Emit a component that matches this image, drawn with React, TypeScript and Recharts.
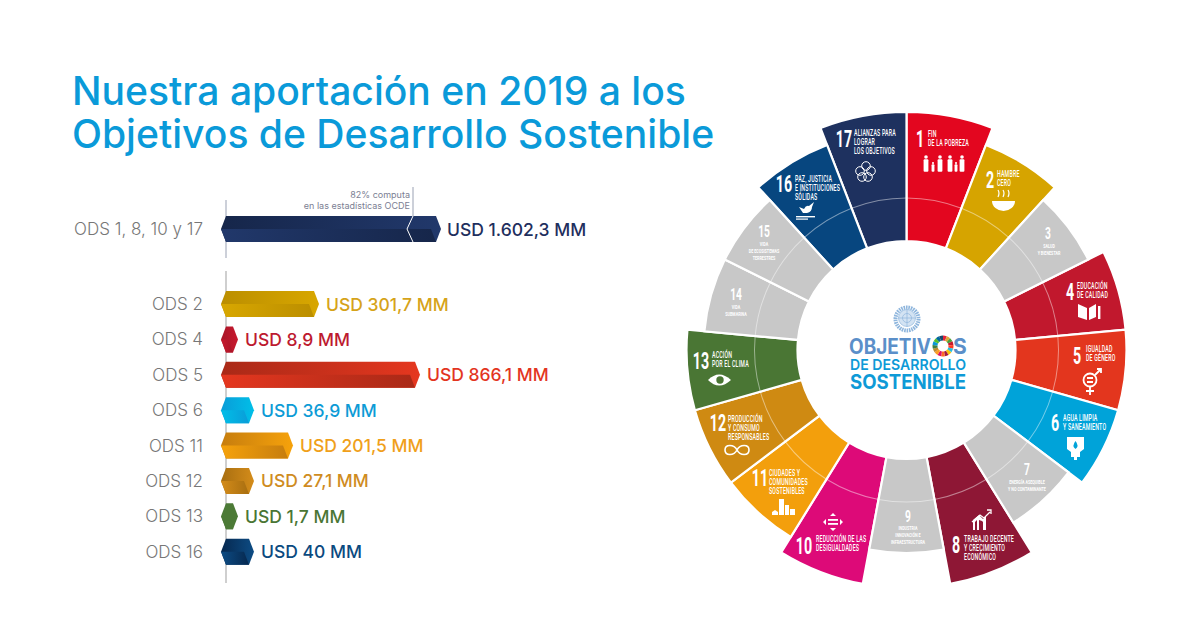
import { BarChart, Bar, XAxis, YAxis, LabelList, PieChart, Pie, Cell } from "recharts";

// Funding per group of goals. The picture's bars are not to scale with the amounts,
// so barLengths holds the lengths.
const topCategories = ["ODS 1, 8, 10 y 17"];
const topAmounts = ["USD 1.602,3 MM"];
const topLengths = [215];
const oecdMarkLength = 187;

const categories = ["ODS 2", "ODS 4", "ODS 5", "ODS 6", "ODS 11", "ODS 12", "ODS 13", "ODS 16"];
const amounts = ["USD 301,7 MM", "USD 8,9 MM", "USD 866,1 MM", "USD 36,9 MM", "USD 201,5 MM", "USD 27,1 MM", "USD 1,7 MM", "USD 40 MM"];
const barLengths = [93, 12, 194, 28, 67, 28, 12, 28];
const lightColors = ["#d8a700", "#c8192e", "#e5371f", "#00bfe8", "#f6a20b", "#d48c1a", "#4c7a36", "#0d4c84"];
const darkColors = ["#bb8e00", "#a81527", "#a92917", "#0a9cd8", "#c67d0e", "#a86e10", "#4c7a36", "#06284f"];
const labelColors = ["#d6a319", "#bd1a30", "#e3351f", "#0d9bd6", "#f0a01a", "#cf8c1f", "#4a7634", "#0b4a80"];

const topLight = "#21386b";
const topDark = "#16264a";

// The 17 goals, clockwise from the top
const goalWeights = [1, 1, 1, 1, 1, 1, 1, 1, 1, 1, 1, 1, 1, 1, 1, 1, 1];
const goalColors = ["#e3061f", "#d6a400", "#c8c8c8", "#c1182d", "#e3361e", "#00a3d9", "#c8c8c8", "#8e1735", "#c8c8c8", "#dd0a78", "#f39f0c", "#cf8a12", "#4a7634", "#c8c8c8", "#c8c8c8", "#07467f", "#1e315f"];
const goalRings = ["lg", "md", "sm", "md", "md", "md", "sm", "lg", "sm", "lg", "md", "md", "md", "sm", "sm", "md", "lg"];
const logoColors = ["#e5243b", "#dda63a", "#4c9f38", "#c5192d", "#ff3a21", "#26bde2", "#fcc30b", "#a21942", "#fd6925", "#dd1367", "#fd9d24", "#bf8b2e", "#3f7e44", "#0a97d9", "#56c02b", "#00689d", "#19486a"];

const goalNumbers = ["1", "2", "3", "4", "5", "6", "7", "8", "9", "10", "11", "12", "13", "14", "15", "16", "17"];
const goalNames = [
  ["FIN", "DE LA POBREZA"],
  ["HAMBRE", "CERO"],
  ["SALUD", "Y BIENESTAR"],
  ["EDUCACIÓN", "DE CALIDAD"],
  ["IGUALDAD", "DE GÉNERO"],
  ["AGUA LIMPIA", "Y SANEAMIENTO"],
  ["ENERGÍA ASEQUIBLE", "Y NO CONTAMINANTE"],
  ["TRABAJO DECENTE", "Y CRECIMIENTO", "ECONÓMICO"],
  ["INDUSTRIA", "INNOVACIÓN E", "INFRAESTRUCTURA"],
  ["REDUCCIÓN DE LAS", "DESIGUALDADES"],
  ["CIUDADES Y", "COMUNIDADES", "SOSTENIBLES"],
  ["PRODUCCIÓN", "Y CONSUMO", "RESPONSABLES"],
  ["ACCIÓN", "POR EL CLIMA"],
  ["VIDA", "SUBMARINA"],
  ["VIDA", "DE ECOSISTEMAS", "TERRESTRES"],
  ["PAZ, JUSTICIA", "E INSTITUCIONES", "SÓLIDAS"],
  ["ALIANZAS PARA", "LOGRAR", "LOS OBJETIVOS"],
];

// number x/y, text x, first text line y; grey goals are centred
const labelSpots = [
  [920, 139, 928, 135], [990, 180, 997, 175], [1048, 233, 1049, 246], [1070, 292, 1077, 287], [1077, 356, 1086, 350],
  [1055, 423, 1063, 419], [1027, 469, 1027, 482], [956, 545, 964, 540], [908, 516, 908, 528], [804, 546, 816, 540],
  [760, 478, 769, 474], [718, 423, 728, 420], [701, 361, 712, 356], [736, 294, 736, 307], [764, 231, 764, 244],
  [784, 184, 795, 180], [844, 139, 854, 134],
];

const CX = 906.5;
const CY = 350;
const SANS = "Inter, Roboto, sans-serif";
const CONDENSED = "Roboto, sans-serif";

function HexBar(props: any) {
  const { x, y, width, height, index, light, dark, mark } = props;
  const mid = y + height / 2;
  const end = x + width;
  const bottom = y + height;
  const upId = `up-${mark ? "t" : "b"}-${index}`;
  const lowId = `low-${mark ? "t" : "b"}-${index}`;
  const hex = `${x - 5},${mid} ${x},${y} ${end - 5},${y} ${end},${mid} ${end - 5},${bottom} ${x},${bottom}`;
  const lower = `${x - 5},${mid} ${end - 10},${mid} ${end - 5},${bottom} ${x},${bottom}`;
  const markX = mark ? x + (width * oecdMarkLength) / topLengths[0] : 0;
  return (
    <g>
      <defs>
        <linearGradient id={upId} x1="0" x2="1" y1="0" y2="0">
          <stop offset="0" stopColor={dark} />
          <stop offset="1" stopColor={light} />
        </linearGradient>
        <linearGradient id={lowId} x1="0" x2="1" y1="0" y2="0">
          <stop offset="0" stopColor={light} />
          <stop offset="1" stopColor={dark} />
        </linearGradient>
      </defs>
      <polygon points={hex} fill={`url(#${upId})`} />
      <polygon points={lower} fill={`url(#${lowId})`} />
      {mark && (
        <g>
          <polyline points={`${markX},${y} ${markX - 6},${mid} ${markX},${bottom}`} fill="none" stroke="#fff" strokeWidth={1} />
          <line x1={markX} x2={markX} y1={y} y2={y - 29} stroke="#9aa1b3" strokeWidth={1} />
          <text x={markX - 3} y={y - 18} textAnchor="end" fontSize={9} fill="#7b8093" fontFamily={SANS}>82% computa</text>
          <text x={markX - 3} y={y - 7} textAnchor="end" fontSize={9} fill="#7b8093" fontFamily={SANS}>en las estadísticas OCDE</text>
        </g>
      )}
    </g>
  );
}

function amountLabel(colors: string[], gap: number) {
  return (p: any) => (
    <text
      x={p.x + p.width + gap}
      y={p.y + p.height / 2}
      dominantBaseline="central"
      fontSize={17.5}
      fontWeight={500}
      fontFamily={SANS}
      fill={colors[p.index]}
    >
      {p.value}
    </text>
  );
}

function GoalLabels() {
  return (
    <g fill="#fff" fontFamily={CONDENSED}>
      {goalNumbers.map((num, i) => {
        const [nx, ny, tx, ty] = labelSpots[i];
        const grey = goalRings[i] === "sm";
        return (
          <g key={num}>
            <text
              transform={`translate(${nx} ${ny}) scale(0.62 1)`}
              textAnchor="middle"
              dominantBaseline="central"
              fontWeight={700}
              fontSize={grey ? 16.5 : 23}
            >
              {num}
            </text>
            {goalNames[i].map((line, j) => (
              <text
                key={line}
                transform={`translate(${tx} ${ty + j * (grey ? 6.9 : 8.6)}) scale(0.64 1)`}
                textAnchor={grey ? "middle" : "start"}
                dominantBaseline="central"
                fontWeight={grey ? 700 : 500}
                fontSize={grey ? 5.8 : 8.2}
                letterSpacing={grey ? 0 : 0.3}
              >
                {line}
              </text>
            ))}
          </g>
        );
      })}
    </g>
  );
}

// small white pictograms of each goal
function GoalIcons() {
  const person = (x: number, y: number, s: number) => (
    <g key={`${x}`}>
      <circle cx={x} cy={y} r={1.8 * s} />
      <rect x={x - 2.4 * s} y={y + 2.2 * s} width={4.8 * s} height={12.5 * s} rx={1} />
    </g>
  );
  return (
    <g fill="#fff">
      {[person(926, 157, 1), person(933, 163, 0.6), person(940, 157, 1), person(950, 157, 1), person(956, 163, 0.6), person(962, 157, 1)]}
      <path d="M992 201 h23 a11.5 10 0 0 1 -23 0z" />
      <path d="M998 190 q2 3 0 7 M1003 190 q2 3 0 7 M1008 190 q2 3 0 7" fill="none" stroke="#fff" strokeWidth={1.2} />
      <path d="M1078 304 l9 4 v12 l-9 -3z M1096 304 l-7 4 v12 l7 -3z" />
      <rect x={1098} y={306} width={2.4} height={13} />
      <g fill="none" stroke="#fff" strokeWidth={1.8}>
        <circle cx={1090} cy={380} r={6.5} />
        <path d="M1095 375 l6 -6 M1097 369 h4 v4 M1090 387 v8 M1086 391 h8 M1087 378 h6 M1087 382 h6" />
      </g>
      <path d="M1067 437 h17 v12 l-4 3 v5 h-3 v3 h-3 v-3 h-3 v-5 l-4 -3z" />
      <path d="M1075.5 441 q4 5 0 8 q-4 -3 0 -8z" fill="#00a3d9" />
      <path d="M973 530 v-10 l6 -5 l4 4 l3 -3 v14 h-3 v-8 l-1 -1 l-3 -1 v10 h-2 v-10 l-2 2 v8z" />
      <path d="M972 522 l8 -7 l4 3 l6 -6 M987 510 h4 v4" fill="none" stroke="#fff" strokeWidth={1.3} />
      <path d="M833 513 l3 3 h-6z M833 531 l3 -3 h-6z M823 522 l3 -3 v6z M843 522 l-3 -3 v6z" />
      <rect x={828} y={519} width={10} height={1.8} />
      <rect x={828} y={523} width={10} height={1.8} />
      <path d="M772 515 v-3 l3 -2 l3 2 v3z M779 515 v-16 h5 v16z M785 515 v-10 h4 v10z M790 515 v-6 h5 v6z" />
      <path d="M737 450 c-3 -6 -12 -6 -12 0 c0 6 9 6 12 0 c3 -6 12 -6 12 0 c0 6 -9 6 -12 0z" fill="none" stroke="#fff" strokeWidth={1.6} />
      <path d="M708 380 q11 -11 23 0 q-12 11 -23 0z" />
      <circle cx={720} cy={380} r={3.7} fill="#4a7634" />
      <path d="M799 207 l5 2 q2 -4 5 -3 l5 -4 l-2 5 q0 5 -5 6 h-4z" />
      <rect x={796} y={216} width={19} height={1.4} />
      <rect x={796} y={218.5} width={12} height={1.2} />
      <g fill="none" stroke="#fff" strokeWidth={1}>
        <circle cx={866} cy={166} r={4.3} />
        <circle cx={871} cy={171} r={4.3} />
        <circle cx={868} cy={177} r={4.3} />
        <circle cx={862} cy={177} r={4.3} />
        <circle cx={860} cy={171} r={4.3} />
      </g>
    </g>
  );
}

function Emblem() {
  return (
    <g fill="none" stroke="#8fb6dd">
      <circle cx={907} cy={319} r={11.5} strokeWidth={4} strokeDasharray="1.6 0.8" />
      <circle cx={907} cy={318} r={8.5} fill="#d3e3f3" strokeWidth={0.7} />
      <circle cx={907} cy={318} r={4.5} strokeWidth={0.7} />
      <path d="M898.5 318 h17 M907 309.5 v17" strokeWidth={0.7} />
    </g>
  );
}

function CenterTitle() {
  return (
    <g fontFamily={SANS} textAnchor="middle" dominantBaseline="central">
      <text x={890} y={346} fill="#5b8fc9" fontWeight={700} fontSize={21} textLength={82} lengthAdjust="spacingAndGlyphs">OBJETIV</text>
      <text x={960} y={346} fill="#5b8fc9" fontWeight={700} fontSize={21}>S</text>
      <text x={908} y={364} fill="#0e9ad7" fontWeight={600} fontSize={15} textLength={116} lengthAdjust="spacingAndGlyphs">DE DESARROLLO</text>
      <text x={908} y={382} fill="#0e9ad7" fontWeight={700} fontSize={20} textLength={116} lengthAdjust="spacingAndGlyphs">SOSTENIBLE</text>
    </g>
  );
}

const topData = topCategories.map((name, i) => ({ name, length: topLengths[i], amount: topAmounts[i] }));
const lowerData = categories.map((name, i) => ({ name, length: barLengths[i], amount: amounts[i] }));
const goalData = goalWeights.map((value, i) => ({ name: goalNumbers[i], value }));

function ring(kind: string, outerRadius: number) {
  return (
    <Pie
      data={goalData}
      dataKey="value"
      cx={CX}
      cy={CY}
      innerRadius={109}
      outerRadius={outerRadius}
      startAngle={90}
      endAngle={-270}
      isAnimationActive={false}
      stroke="none"
    >
      {goalData.map((g, i) => {
        const on = goalRings[i] === kind;
        return <Cell key={g.name} fill={on ? goalColors[i] : "none"} stroke={on ? "#fff" : "none"} strokeWidth={on ? 2.2 : 0} />;
      })}
    </Pie>
  );
}

const layer = { position: "absolute", left: 0 } as const;
const tick = { fontSize: 17, fill: "#777777", fontFamily: SANS, fontWeight: 300, dy: 0.4 };

// Two stacked charts with the same scales: recharts paints its axis over the bars,
// and here the bars have to cover the axis line
function OdsChart({ top, height, marginTop, data, padding, axisStroke, axisWidth, shape, label }: any) {
  const margin = { top: marginTop, right: 0, bottom: 0, left: 0 };
  return (
    <div style={{ ...layer, top }}>
      <div style={{ ...layer, top: 0 }}>
        <BarChart width={626} height={height} layout="vertical" data={data} margin={margin}>
          <XAxis type="number" domain={[0, 400]} hide />
          <YAxis type="category" dataKey="name" width={226} padding={padding} interval={0} tickLine={false} tickSize={0} tickMargin={23} axisLine={{ stroke: axisStroke, strokeWidth: axisWidth }} tick={tick} />
        </BarChart>
      </div>
      <div style={{ ...layer, top: 0 }}>
        <BarChart width={626} height={height} layout="vertical" data={data} margin={margin}>
          <XAxis type="number" domain={[0, 400]} hide />
          <YAxis type="category" dataKey="name" width={226} padding={padding} interval={0} tickLine={false} axisLine={false} tick={false} />
          <Bar dataKey="length" barSize={26} isAnimationActive={false} shape={shape}>
            <LabelList dataKey="amount" content={label} />
          </Bar>
        </BarChart>
      </div>
    </div>
  );
}

export default function App() {
  return (
    <div style={{ position: "absolute", left: 0, top: 0, width: 1200, height: 630, background: "#fff", overflow: "hidden" }}>
      <div style={{ ...layer, left: 72, top: 69, fontFamily: SANS, fontWeight: 500, fontSize: 39.1, lineHeight: "43px", color: "#0a9ad9", whiteSpace: "nowrap" }}>
        Nuestra aportación en 2019 a los
        <br />
        Objetivos de Desarrollo Sostenible
      </div>

      <OdsChart
        top={170}
        height={88}
        marginTop={30}
        data={topData}
        axisStroke="#9aa1b3"
        axisWidth={1}
        shape={(p: any) => <HexBar {...p} light={topLight} dark={topDark} mark />}
        label={amountLabel(["#1f2f5e"], 6)}
      />

      <OdsChart
        top={271}
        height={312}
        marginTop={0}
        data={lowerData}
        padding={{ top: 15, bottom: 14 }}
        axisStroke="#cfcfcf"
        axisWidth={2}
        shape={(p: any) => <HexBar {...p} light={lightColors[p.index]} dark={darkColors[p.index]} />}
        label={amountLabel(labelColors, 7)}
      />

      <div style={{ ...layer, top: 0 }}>
        <PieChart width={1200} height={630} margin={{ top: 0, right: 0, bottom: 0, left: 0 }}>
          {ring("lg", 238)}
          {ring("md", 220)}
          {ring("sm", 203)}
          <Pie data={goalData} dataKey="value" cx={CX} cy={CY} innerRadius={151.5} outerRadius={152.5} startAngle={90} endAngle={-270} fill="#ffffff" fillOpacity={0.45} stroke="none" isAnimationActive={false} />
          <Pie data={goalData} dataKey="value" cx={943} cy={346} innerRadius={5.5} outerRadius={10.5} startAngle={90} endAngle={-270} stroke="none" isAnimationActive={false}>
            {goalData.map((g, i) => (
              <Cell key={g.name} fill={logoColors[i]} />
            ))}
          </Pie>
        </PieChart>
      </div>

      <svg width={1200} height={630} style={{ ...layer, top: 0, pointerEvents: "none" }}>
        <GoalLabels />
        <GoalIcons />
        <Emblem />
        <CenterTitle />
      </svg>
    </div>
  );
}
